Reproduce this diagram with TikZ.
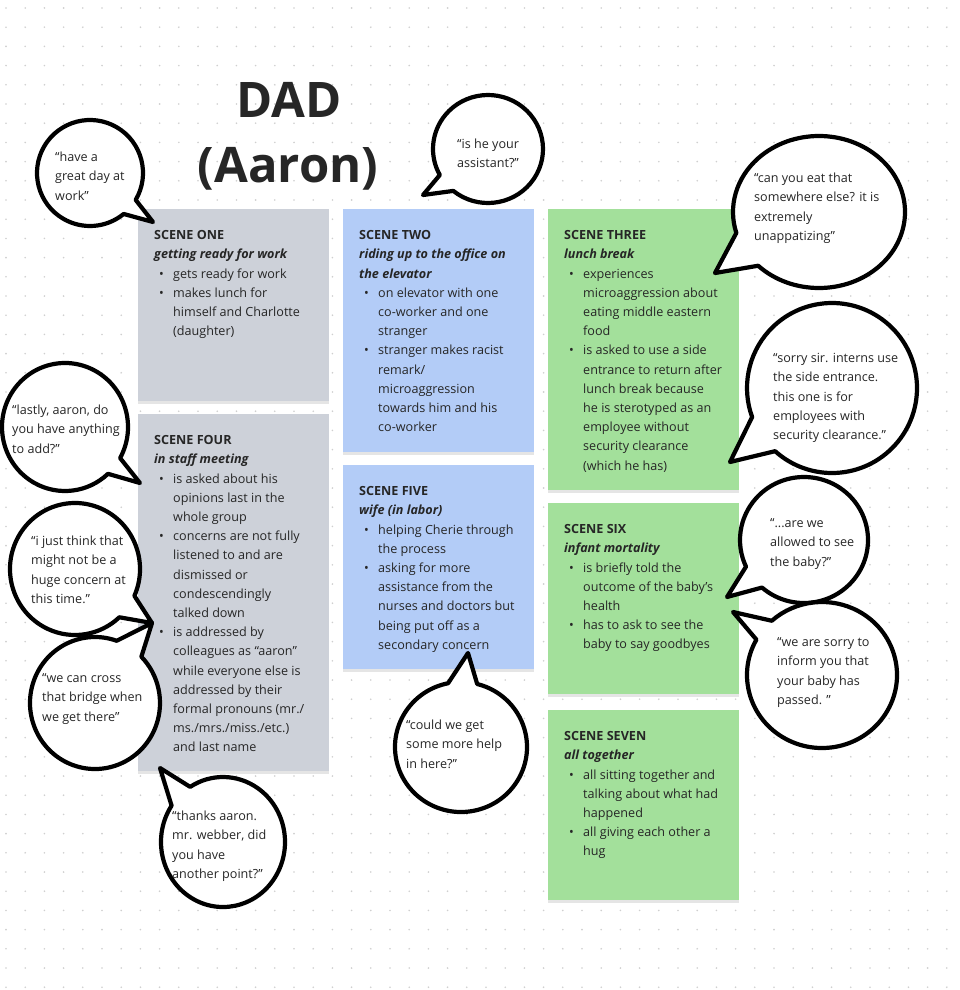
\documentclass[tikz,border=0pt]{standalone}
\usepackage{fontspec}
\setmainfont{Open Sans}
\usetikzlibrary{calc,shadows}
\definecolor{cgrey}{HTML}{CDD1D9}
\definecolor{cblue}{HTML}{B3CCF7}
\definecolor{cgreen}{HTML}{A3E09B}
\definecolor{ink}{HTML}{262626}
\definecolor{griddot}{HTML}{CFCFCF}
\newcommand\bi{\makebox[19pt][l]{\hspace{5pt}\textbullet}}
\newcommand\bc{\hspace*{19pt}}
\newcommand\fl{\rule{0pt}{10pt}}
\newcommand\hd[2]{\fl\textbf{#1}\\\textbf{\textit{#2}}}
\newcommand\spbubble[6]{%
  \draw[bubbleline] ($(#1)+(#5:#2 and #3)$) arc[start angle=#5, end angle={#4+360}, x radius=#2, y radius=#3] -- (#6) -- cycle;}
\tikzset{
  card/.style={anchor=north west, inner sep=0pt, outer sep=0pt, minimum width=191,
    drop shadow={shadow xshift=0pt, shadow yshift=-3pt, opacity=0.10, fill=black}},
  ctext/.style={anchor=north west, inner sep=0pt, align=left, text=ink,
    font=\fontsize{12.6}{19.2}\selectfont},
  btext/.style={anchor=north west, inner sep=0pt, align=left, text=ink,
    font=\fontsize{12.6}{19.2}\selectfont},
  bubbleline/.style={draw=black, fill=white, line width=4.2pt, line join=round},
  titletext/.style={anchor=base, inner sep=0pt, text=ink,
    font=\fontsize{49}{58}\selectfont\bfseries}
}
\begin{document}
\begin{tikzpicture}[x=1pt,y=1pt]
\useasboundingbox (0,0) rectangle (960,-990);
\fill[white] (0,0) rectangle (960,-990);
\foreach \i in {0,...,49}{\foreach \j in {0,...,51}{\fill[griddot] ({6+19.2*\i},{-8-19.2*\j}) circle (0.9);}}

% title
\node[titletext] (title1) at (289,-117) {DAD};
\node[titletext] (title2) at (288,-182) {(Aaron)};

% cards
\node[card, fill=cgrey, minimum height=192] (s1) at (138,-209) {};
\node[card, fill=cgrey, minimum height=357] (s4) at (138,-414) {};
\node[card, fill=cblue, minimum height=243] (s2) at (343,-209) {};
\node[card, fill=cblue, minimum height=204] (s5) at (343,-465) {};
\node[card, fill=cgreen, minimum height=281] (s3) at (548,-209) {};
\node[card, fill=cgreen, minimum height=191] (s6) at (548,-503) {};
\node[card, fill=cgreen, minimum height=190] (s7) at (548,-710) {};

\node[ctext] (s1t) at ($(s1.north west)+(16,-20.5)$) {\hd{SCENE ONE}{getting ready for work}\\
\bi gets ready for work\\
\bi makes lunch for\\
\bc himself and Charlotte\\
\bc (daughter)};

\node[ctext] (s2t) at ($(s2.north west)+(16,-20.5)$) {\hd{SCENE TWO}{riding up to the office on}\\
\textbf{\textit{the elevator}}\\
\bi on elevator with one\\
\bc co-worker and one\\
\bc stranger\\
\bi stranger makes racist\\
\bc remark/\\
\bc microaggression\\
\bc towards him and his\\
\bc co-worker};

\node[ctext] (s3t) at ($(s3.north west)+(16,-20.5)$) {\hd{SCENE THREE}{lunch break}\\
\bi experiences\\
\bc microaggression about\\
\bc eating middle eastern\\
\bc food\\
\bi is asked to use a side\\
\bc entrance to return after\\
\bc lunch break because\\
\bc he is sterotyped as an\\
\bc employee without\\
\bc security clearance\\
\bc (which he has)};

\node[ctext] (s4t) at ($(s4.north west)+(16,-20.5)$) {\hd{SCENE FOUR}{in staff meeting}\\
\bi is asked about his\\
\bc opinions last in the\\
\bc whole group\\
\bi concerns are not fully\\
\bc listened to and are\\
\bc dismissed or\\
\bc condescendingly\\
\bc talked down\\
\bi is addressed by\\
\bc colleagues as “aaron”\\
\bc while everyone else is\\
\bc addressed by their\\
\bc formal pronouns (mr./\\
\bc ms./mrs./miss./etc.)\\
\bc and last name};

\node[ctext] (s5t) at ($(s5.north west)+(16,-20.5)$) {\hd{SCENE FIVE}{wife (in labor)}\\
\bi helping Cherie through\\
\bc the process\\
\bi asking for more\\
\bc assistance from the\\
\bc nurses and doctors but\\
\bc being put off as a\\
\bc secondary concern};

\node[ctext] (s6t) at ($(s6.north west)+(16,-20.5)$) {\hd{SCENE SIX}{infant mortality}\\
\bi is briefly told the\\
\bc outcome of the baby’s\\
\bc health\\
\bi has to ask to see the\\
\bc baby to say goodbyes};

\node[ctext] (s7t) at ($(s7.north west)+(16,-20.5)$) {\hd{SCENE SEVEN}{all together}\\
\bi all sitting together and\\
\bc talking about what had\\
\bc happened\\
\bi all giving each other a\\
\bc hug};

% bubble centres and tail tips
\coordinate (c1) at (90,-173);   \coordinate (p1) at (153,-222);
\coordinate (c2) at (488,-149);  \coordinate (p2) at (423,-195);
\coordinate (c3) at (819,-212);  \coordinate (p3) at (715,-273);
\coordinate (c4) at (832,-388);  \coordinate (p4) at (730,-462);
\coordinate (c5) at (804,-540);  \coordinate (p5) at (727,-597);
\coordinate (c6) at (822,-675);  \coordinate (p6) at (733,-612);
\coordinate (c7) at (65,-427);   \coordinate (p7) at (140,-483);
\coordinate (c8) at (75,-569);   \coordinate (p8) at (152,-623);
\coordinate (c9) at (95,-703);
\coordinate (c10) at (461,-747); \coordinate (p10) at (468,-653);
\coordinate (c11) at (223,-842); \coordinate (p11) at (160,-768);

\spbubble{c1}{53}{53}{-50.6}{-30.5}{p1}
\spbubble{c2}{55}{54}{208.8}{230.9}{p2}
\spbubble{c3}{86}{76}{196}{225}{p3}
\spbubble{c4}{85}{85}{200}{228}{p4}
\spbubble{c5}{64}{63}{205}{229}{p5}
\spbubble{c6}{75}{73}{132}{151}{p6}
\spbubble{c7}{63}{64}{-47}{-29}{p7}
\spbubble{c8}{65}{66}{-47}{-24}{p8}
\spbubble{c9}{65}{66}{44.5}{70.5}{p8}
\spbubble{c10}{66}{65}{75.8}{101.3}{p10}
\spbubble{c11}{62}{65}{122}{146}{p11}

% bubble texts
\node[btext] (b1) at (55,-151.5) {\fl “have a\\great day at\\work”};
\node[btext] (b2) at (457,-138.5) {\fl “is he your\\assistant?”};
\node[btext] (b3) at (754,-172.5) {\fl “can you eat that\\somewhere else? it is\\extremely\\unappatizing”};
\node[btext] (b4) at (773,-352.5) {\fl “sorry sir. interns use\\the side entrance.\\this one is for\\employees with\\security clearance.”};
\node[btext] (b5) at (770,-517.5) {\fl “...are we\\allowed to see\\the baby?”};
\node[btext] (b6) at (777,-636.5) {\fl “we are sorry to\\inform you that\\your baby has\\passed. ”};
\node[btext] (b7) at (12,-404.5) {\fl “lastly, aaron, do\\you have anything\\to add?”};
\node[btext] (b8) at (31,-535.5) {\fl “i just think that\\might not be a\\huge concern at\\this time.”};
\node[btext] (b9) at (42,-672.5) {\fl “we can cross\\that bridge when\\we get there”};
\node[btext] (b10) at (406,-719.5) {\fl “could we get\\some more help\\in here?”};
\node[btext] (b11) at (172,-810.5) {\fl “thanks aaron.\\mr. webber, did\\you have\\another point?”};
\end{tikzpicture}
\end{document}
